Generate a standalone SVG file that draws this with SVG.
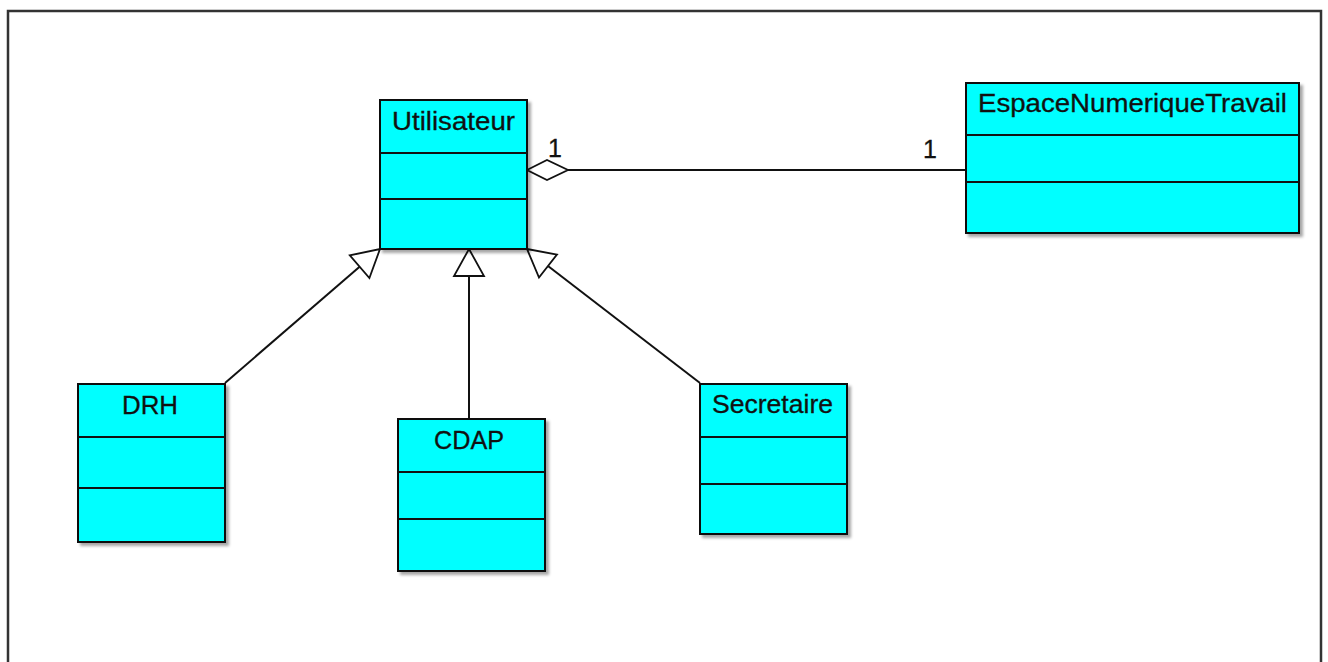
<svg xmlns="http://www.w3.org/2000/svg" width="1328" height="662" viewBox="0 0 1328 662">
  <defs>
    <style>
      .cls rect { fill: #00ffff; stroke: #111; stroke-width: 2; }
      .cls line { stroke: #111; stroke-width: 2; }
      .cls text { font-family: "Liberation Sans", Arial, sans-serif; font-size: 25px; fill: #111; stroke: #111; stroke-width: 0.3; text-anchor: middle; }
      .edge { stroke: #111; stroke-width: 2; fill: none; }
      .head { stroke: #111; stroke-width: 1.8; fill: #fff; stroke-linejoin: miter; }
      .mult { font-family: "Liberation Sans", Arial, sans-serif; font-size: 25px; fill: #111; stroke: #111; stroke-width: 0.3; }
    </style>
    <filter id="shadow" x="-10%" y="-10%" width="130%" height="130%">
      <feDropShadow dx="3" dy="3" stdDeviation="1.5" flood-color="#000" flood-opacity="0.35"/>
    </filter>
  </defs>

  <rect x="0" y="0" width="1328" height="662" fill="#fff"/>
  <!-- diagram frame -->
  <path d="M8 680 V11 H1321 V680" fill="none" stroke="#333" stroke-width="2.5"/>

  <!-- connectors -->
  <g id="connectors">
    <!-- aggregation Utilisateur - EspaceNumeriqueTravail -->
    <line class="edge" x1="568" y1="170" x2="966" y2="170"/>
    <polygon class="head" points="527,170 547,160 568,170 547,180"/>
    <text class="mult" x="548" y="157">1</text>
    <text class="mult" x="923" y="158">1</text>

    <!-- DRH generalization -->
    <line class="edge" x1="225" y1="383" x2="359.6" y2="266.7"/>
    <polygon class="head" points="380,249 369.4,278 349.8,255.4"/>

    <!-- CDAP generalization -->
    <line class="edge" x1="469" y1="419" x2="469" y2="276"/>
    <polygon class="head" points="469,249 484,276 454,276"/>

    <!-- Secretaire generalization -->
    <line class="edge" x1="700" y1="383" x2="548" y2="266"/>
    <polygon class="head" points="527,249 557,254.5 539,277.5"/>
  </g>

  <g id="Utilisateur" class="cls">
    <rect x="380" y="100" width="147" height="149" filter="url(#shadow)"/>
    <line x1="380" y1="153" x2="527" y2="153"/>
    <line x1="380" y1="199" x2="527" y2="199"/>
    <text x="453.5" y="130" textLength="123" lengthAdjust="spacingAndGlyphs">Utilisateur</text>
  </g>

  <g id="EspaceNumeriqueTravail" class="cls">
    <rect x="966" y="83" width="333" height="150" filter="url(#shadow)"/>
    <line x1="966" y1="135" x2="1299" y2="135"/>
    <line x1="966" y1="182" x2="1299" y2="182"/>
    <text x="1132.5" y="112" textLength="309" lengthAdjust="spacingAndGlyphs">EspaceNumeriqueTravail</text>
  </g>

  <g id="DRH" class="cls">
    <rect x="78" y="384" width="147" height="158" filter="url(#shadow)"/>
    <line x1="78" y1="437" x2="225" y2="437"/>
    <line x1="78" y1="488" x2="225" y2="488"/>
    <text x="150" y="414" textLength="56" lengthAdjust="spacingAndGlyphs">DRH</text>
  </g>

  <g id="CDAP" class="cls">
    <rect x="398" y="419" width="147" height="152" filter="url(#shadow)"/>
    <line x1="398" y1="472" x2="545" y2="472"/>
    <line x1="398" y1="519" x2="545" y2="519"/>
    <text x="469" y="449" textLength="70" lengthAdjust="spacingAndGlyphs">CDAP</text>
  </g>

  <g id="Secretaire" class="cls">
    <rect x="700" y="384" width="147" height="150" filter="url(#shadow)"/>
    <line x1="700" y1="437" x2="847" y2="437"/>
    <line x1="700" y1="484" x2="847" y2="484"/>
    <text x="772.5" y="413" textLength="121" lengthAdjust="spacingAndGlyphs">Secretaire</text>
  </g>
</svg>
